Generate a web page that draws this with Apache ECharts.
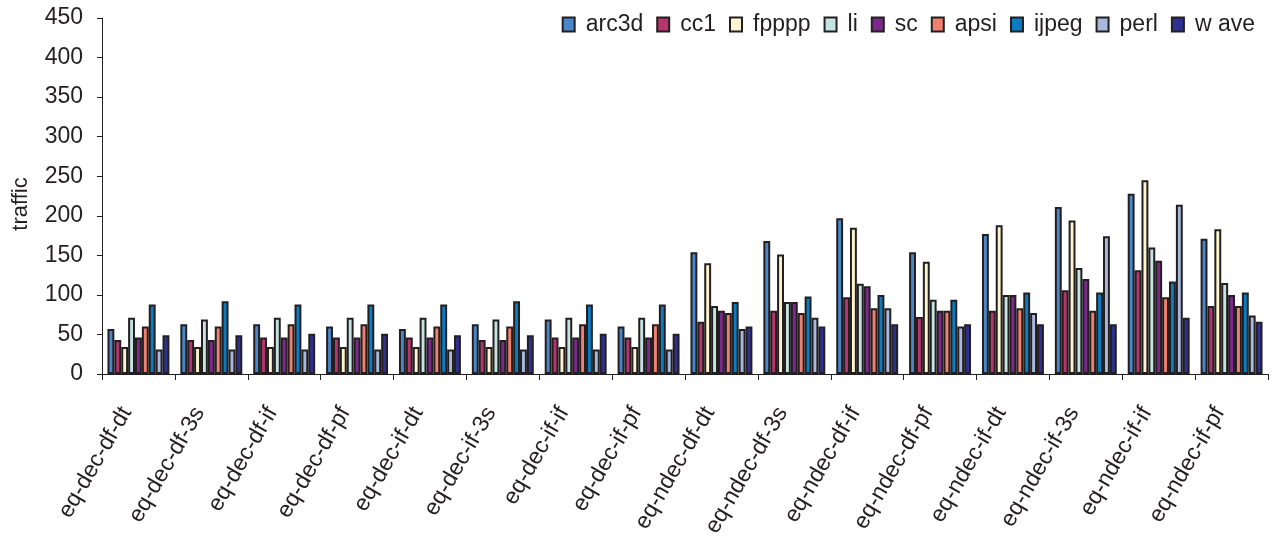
<!DOCTYPE html>
<html>
<head>
<meta charset="utf-8">
<script src="https://cdn.jsdelivr.net/npm/echarts@6/dist/echarts.min.js"></script>
<style>
  html, body { margin: 0; padding: 0; background: #fff; }
  #chart { width: 1274px; height: 541px; }
</style>
</head>
<body>
<div id="chart"></div>
<script>
// categories
const configs = [
  'eq-dec-df-dt', 'eq-dec-df-3s', 'eq-dec-df-if', 'eq-dec-df-pf',
  'eq-dec-if-dt', 'eq-dec-if-3s', 'eq-dec-if-if', 'eq-dec-if-pf',
  'eq-ndec-df-dt', 'eq-ndec-df-3s', 'eq-ndec-df-if', 'eq-ndec-df-pf',
  'eq-ndec-if-dt', 'eq-ndec-if-3s', 'eq-ndec-if-if', 'eq-ndec-if-pf'
]

// series values
const arc3d = [57, 63, 63, 60, 57, 63, 69, 60, 154, 168, 197, 154, 177, 211, 228, 171]
const cc1   = [43, 43, 46, 46, 46, 43, 46, 46, 66, 80, 97, 72, 80, 106, 131, 86]
const fpppp = [34, 34, 34, 34, 34, 34, 34, 34, 140, 151, 185, 142, 188, 194, 245, 183]
const li    = [71, 69, 71, 71, 71, 69, 71, 71, 86, 91, 114, 94, 100, 134, 160, 115]
const sc    = [46, 43, 46, 46, 46, 43, 46, 46, 80, 91, 111, 80, 100, 120, 143, 100]
const apsi  = [60, 60, 63, 63, 60, 60, 63, 63, 77, 77, 83, 80, 83, 80, 97, 86]
const ijpeg = [88, 92, 88, 88, 88, 92, 88, 88, 91, 98, 100, 94, 103, 103, 117, 103]
const perl  = [31, 31, 31, 31, 31, 31, 31, 31, 57, 71, 83, 60, 77, 174, 214, 74]
const wave  = [49, 49, 51, 51, 49, 49, 51, 51, 60, 60, 63, 63, 63, 63, 71, 66]

// legend names, as printed
const names = ['arc3d', 'cc1', 'fpppp', 'li', 'sc', 'apsi', 'ijpeg', 'perl', 'w ave']
const values = [arc3d, cc1, fpppp, li, sc, apsi, ijpeg, perl, wave]
const colors = ['#4a86c8', '#b5356e', '#fdf5d0', '#c5e3e0', '#7b2a8c', '#f08070', '#0a7dc2', '#a9b9dc', '#2e3192']

const ink = '#231f20'
const font = '"Liberation Sans", Arial, sans-serif'

const chart = echarts.init(document.getElementById('chart'))

const series = names.map((name, i) => ({
  name: name,
  type: 'bar',
  data: values[i],
  barGap: '0%',
  barCategoryGap: '15%',
  itemStyle: { color: colors[i], borderColor: ink, borderWidth: 2 }
}))

chart.setOption({
  animation: false,
  backgroundColor: '#fff',
  color: colors,
  textStyle: { fontFamily: font, color: ink },
  legend: {
    data: names,
    right: 14,
    top: 8,
    itemWidth: 12,
    itemHeight: 14,
    itemGap: 13,
    icon: 'rect',
    itemStyle: { borderColor: ink, borderWidth: 2 },
    textStyle: { fontSize: 23, color: ink, fontFamily: font, padding: [0, 0, 0, 6] }
  },
  grid: { left: 102, right: 6, top: 18, bottom: 167, outerBoundsMode: 'none', containLabel: false },
  xAxis: {
    type: 'category',
    data: configs,
    axisLine: { lineStyle: { color: ink, width: 1 } },
    axisTick: { show: true, length: 6, lineStyle: { color: ink } },
    axisLabel: {
      rotate: 60,
      fontSize: 23,
      color: ink,
      fontFamily: font,
      interval: 0,
      margin: 14,
      padding: [0, 24, 0, 0]
    }
  },
  yAxis: {
    type: 'value',
    min: 0,
    max: 450,
    interval: 50,
    name: 'traffic',
    nameLocation: 'middle',
    nameGap: 70,
    nameRotate: 90,
    nameTextStyle: { fontSize: 22, color: ink, fontFamily: font, padding: [0, 0, 0, -16] },
    axisLine: { show: true, lineStyle: { color: ink, width: 1 } },
    axisTick: { show: true, length: 5, lineStyle: { color: ink } },
    axisLabel: { fontSize: 23, color: ink, fontFamily: font, margin: 19 },
    splitLine: { show: false }
  },
  series: series
})
</script>
</body>
</html>
